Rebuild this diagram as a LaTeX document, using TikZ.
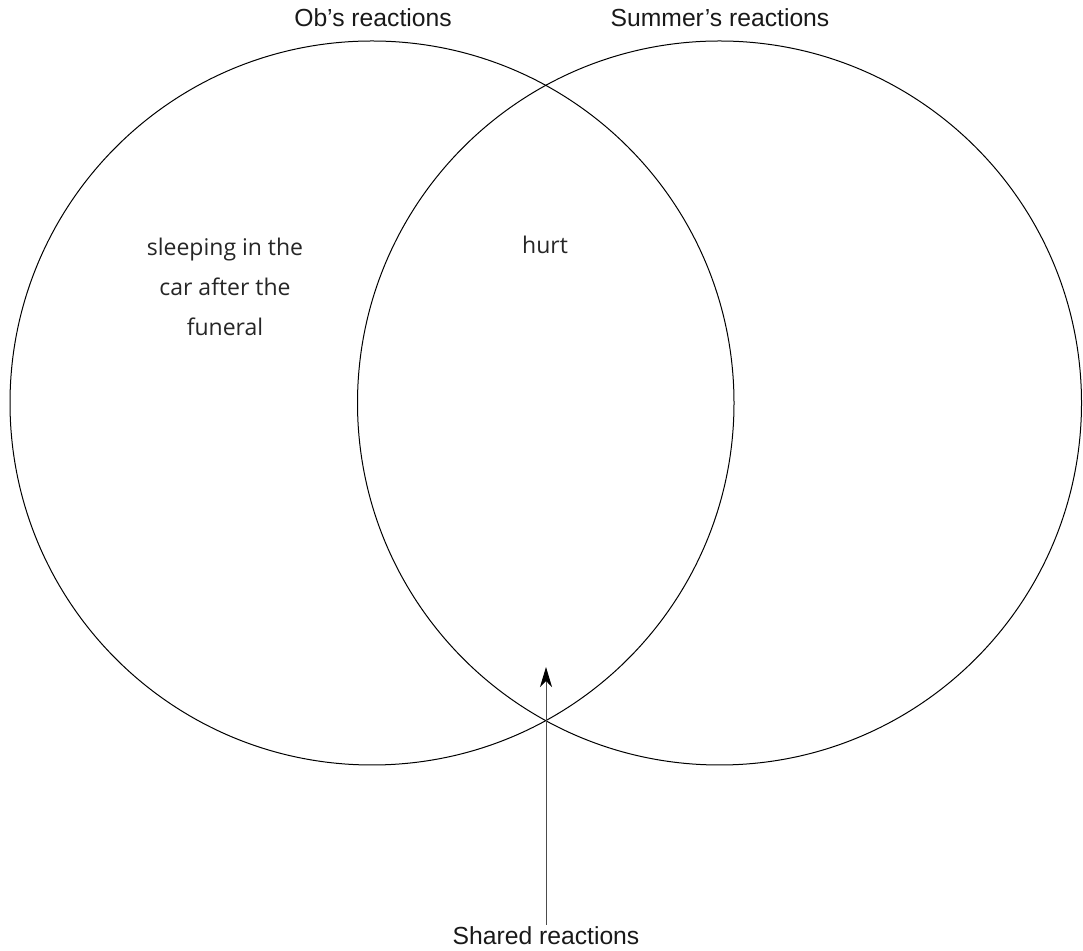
\documentclass[tikz,border=0pt]{standalone}
\usepackage{fontspec}
\setmainfont{Liberation Sans}
\newfontfamily\handfont{Open Sans}
\usetikzlibrary{arrows.meta}
\begin{document}
\begin{tikzpicture}[x=1pt,y=1pt,
  ring/.style={circle, draw=black, line width=1pt, minimum size=724pt, inner sep=0pt},
  lbl/.style={font=\fontsize{24.7}{30}\selectfont, text=black!90, inner sep=1pt},
  hand/.style={font=\handfont\fontsize{23}{40}\selectfont, align=center, text=black!85},
  pointer/.style={draw=black!70, line width=1pt, -{Stealth[length=20pt,width=12pt,inset=6pt,color=black]}}
]
\useasboundingbox (0,0) rectangle (1083,950);
\node[ring] (L) at (372,547) {};
\node[ring] (R) at (719.5,547) {};
\node[lbl] (obl) at (373,932) {Ob’s reactions};
\node[lbl] (sul) at (720,932) {Summer’s reactions};
\node[hand] (sleep) at (225,663) {sleeping in the\\car after the\\funeral};
\node[hand] (hurt) at (545,705) {hurt};
\node[lbl, anchor=base] (shared) at (546,6) {Shared reactions};
\coordinate (tip) at (546,283);
\draw[pointer] (shared.north) -- (tip);
\end{tikzpicture}
\end{document}
